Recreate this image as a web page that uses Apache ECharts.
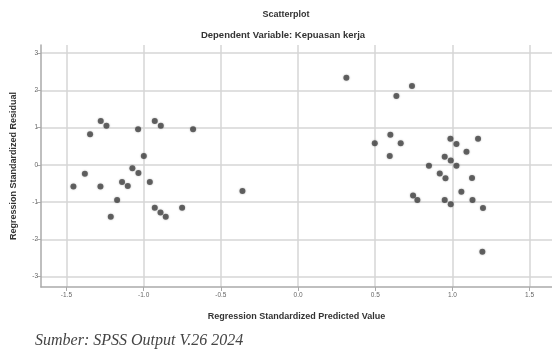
<!DOCTYPE html>
<html>
<head>
<meta charset="utf-8">
<script src="https://cdn.jsdelivr.net/npm/echarts@6/dist/echarts.min.js"></script>
<style>
  html, body { margin: 0; padding: 0; background: #fff; }
  #chart { width: 552px; height: 353px; }
</style>
</head>
<body>
<div id="chart"></div>
<script>
// predicted value (x) and residual (y)
const predicted = [
  -1.278, -1.241, -1.347, -1.036, -0.928, -0.889, -0.680, -0.999, -1.073, -1.034,
  -1.381, -1.455, -1.280, -1.140, -1.103, -0.960, -1.172, -1.213, -0.928, -0.891,
  -0.857, -0.751, -0.360,
  0.313, 0.738, 0.637, 0.598, 0.497, 0.665, 0.594, 0.987, 1.026, 1.166,
  1.091, 0.950, 0.989, 1.026, 0.848, 0.918, 0.955, 1.127, 1.058, 0.745,
  0.773, 0.950, 0.989, 1.130, 1.198, 1.194
];
const residual = [
  1.18, 1.05, 0.82, 0.96, 1.18, 1.05, 0.96, 0.24, -0.09, -0.22,
  -0.24, -0.58, -0.58, -0.46, -0.57, -0.46, -0.94, -1.39, -1.15, -1.28,
  -1.39, -1.15, -0.70,
  2.34, 2.12, 1.85, 0.81, 0.58, 0.58, 0.24, 0.70, 0.56, 0.70,
  0.35, 0.22, 0.12, -0.02, -0.02, -0.23, -0.36, -0.35, -0.72, -0.82,
  -0.94, -0.94, -1.06, -0.94, -1.16, -2.33
];
const xTicks = [-1.5, -1.0, -0.5, 0.0, 0.5, 1.0, 1.5];
const yTicks = [-3, -2, -1, 0, 1, 2, 3];

const gridColor = "#d6d6d6";
const axisColor = "#aaaaaa";
const labelColor = "#666";

const chart = echarts.init(document.getElementById("chart"), null, { renderer: "canvas" });

chart.setOption({
  animation: false,
  title: [
    {
      text: "Scatterplot",
      left: 281,
      top: 5,
      textAlign: "center",
      textStyle: { fontFamily: "Liberation Sans", fontSize: 9, fontWeight: "bold", color: "#333" }
    },
    {
      text: "Dependent Variable: Kepuasan kerja",
      left: 278,
      top: 25,
      textAlign: "center",
      textStyle: { fontFamily: "Liberation Sans", fontSize: 9.5, fontWeight: "bold", color: "#333" }
    }
  ],
  grid: { left: 41, right: 0, top: 45, bottom: 66 },
  xAxis: {
    type: "value",
    min: -1.665,
    max: 1.645,
    name: "Regression Standardized Predicted Value",
    nameLocation: "middle",
    nameGap: 25,
    nameTextStyle: { fontFamily: "Liberation Sans", fontSize: 9, fontWeight: "bold", color: "#333" },
    axisLine: { show: true, onZero: false, lineStyle: { color: axisColor, width: 1.5 } },
    axisTick: { show: true, customValues: xTicks, length: 4, lineStyle: { color: axisColor } },
    axisLabel: {
      customValues: xTicks,
      formatter: (v) => v.toFixed(1),
      fontFamily: "Liberation Sans",
      fontSize: 6.5,
      color: labelColor,
      margin: 5
    },
    splitLine: { show: true, lineStyle: { color: gridColor, width: 1.5 } }
  },
  yAxis: {
    type: "value",
    min: -3.28,
    max: 3.22,
    name: "Regression Standardized Residual",
    nameLocation: "middle",
    nameGap: 23,
    nameTextStyle: { fontFamily: "Liberation Sans", fontSize: 9, fontWeight: "bold", color: "#333" },
    axisLine: { show: true, onZero: false, lineStyle: { color: axisColor, width: 1.5 } },
    axisTick: { show: true, customValues: yTicks, length: 4, lineStyle: { color: axisColor } },
    axisLabel: {
      customValues: yTicks,
      fontFamily: "Liberation Sans",
      fontSize: 6.5,
      color: labelColor,
      margin: 3
    },
    splitLine: { show: true, lineStyle: { color: gridColor, width: 1.5 } }
  },
  series: [
    {
      type: "scatter",
      data: predicted.map((x, i) => [x, residual[i]]),
      symbolSize: 6,
      itemStyle: { color: "#454545", shadowBlur: 2, shadowColor: "rgba(0,0,0,0.35)" }
    }
  ],
  graphic: [
    {
      type: "text",
      left: 35,
      top: 333,
      style: {
        text: "Sumber: SPSS Output V.26 2024",
        font: "italic 16px 'Liberation Serif'",
        fill: "#444"
      }
    }
  ]
});
</script>
</body>
</html>
